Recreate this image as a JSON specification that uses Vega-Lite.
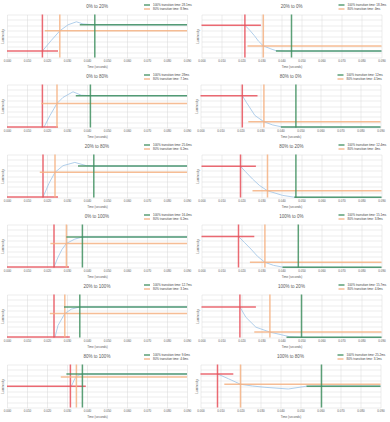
{
"$schema":"https://vega.github.io/schema/vega-lite/v6.json",
"padding":{"left":1,"top":2.5,"right":0,"bottom":0},
"spacing":4,
"resolve":{"scale":{"color":"independent"},"legend":{"color":"independent"}},
"config":{
 "font":"Liberation Sans",
 "view":{"stroke":null},
 "concat":{"spacing":3.5},
 "title":{"fontSize":4.5,"fontWeight":"normal","color":"#595959","offset":0,"dy":9},
 "axis":{"labelFontSize":3,"titleFontSize":3,"titleFontWeight":"normal","labelColor":"#595959","titleColor":"#595959","ticks":false,"domain":false,"gridColor":"#d9d9d9","gridWidth":0.5,"labelPadding":2,"titlePadding":2.5,"labelFlush":false,"labelOverlap":false},
 "legend":{"orient":"none","legendX":136,"legendY":-11.5,"labelFontSize":3,"labelColor":"#404040","symbolType":"stroke","symbolStrokeWidth":1.5,"symbolSize":36,"clipHeight":4,"rowPadding":0,"labelOffset":2,"padding":0}
},
"vconcat":[
{"hconcat":[
 {"title":"0% to 20%","width":180,"height":43,
  "data":{"values":[
   {"k":"c","t":0.0177,"v":15},{"k":"c","t":0.0222,"v":40},{"k":"c","t":0.0264,"v":62},{"k":"c","t":0.0305,"v":76},{"k":"c","t":0.0347,"v":83},{"k":"c","t":0.038,"v":78},{"k":"c","t":0.044,"v":76},{"k":"c","t":0.09,"v":76},
   {"k":"h","s":"r","t":0,"t2":0.0255,"v":15,"v2":15},{"k":"v","s":"r","t":0.0177,"t2":0.0177,"v":0,"v2":100},
   {"k":"h","s":"o","t":0.0189,"t2":0.09,"v":62,"v2":62},{"k":"v","s":"o","t":0.0264,"t2":0.0264,"v":0,"v2":100},
   {"k":"h","s":"g","t":0.0364,"t2":0.09,"v":76,"v2":76},{"k":"v","s":"g","t":0.0439,"t2":0.0439,"v":0,"v2":100}]},
  "encoding":{"x":{"field":"t","type":"quantitative","scale":{"domain":[0,0.09],"nice":false},"axis":{"values":[0,0.01,0.02,0.03,0.04,0.05,0.06,0.07,0.08,0.09],"format":".3f","title":"Time (seconds)"}},
   "y":{"field":"v","type":"quantitative","scale":{"domain":[0,100],"nice":false},"axis":{"values":[0,12.5,25,37.5,50,62.5,75,87.5,100],"labels":false,"title":"Luminosity"}}},
  "layer":[
   {"transform":[{"filter":"datum.k=='c'"}],"mark":{"type":"line","color":"#9dc3e6","strokeWidth":0.8},"encoding":{}},
   {"transform":[{"filter":"datum.k!='c'"}],"mark":{"type":"rule","strokeWidth":1.5,"opacity":0.85},"encoding":{"x2":{"field":"t2"},"y2":{"field":"v2"},"color":{"field":"s","type":"nominal","scale":{"domain":["g","o","r"],"range":["#3f8f5f","#f4b183","#e8505b"]},"legend":{"title":null,"values":["g","o"],"labelExpr":"datum.value=='g'?'100% transition time: 28.1ms':'80% transition time: 8.9ms'"}}}}
  ]},
 {"title":"20% to 0%","width":180,"height":43,
  "data":{"values":[
   {"k":"c","t":0.0217,"v":75},{"k":"c","t":0.024,"v":64},{"k":"c","t":0.0264,"v":51},{"k":"c","t":0.0285,"v":38},{"k":"c","t":0.0309,"v":27},{"k":"c","t":0.0347,"v":20},{"k":"c","t":0.0372,"v":16},{"k":"c","t":0.042,"v":15},{"k":"c","t":0.09,"v":15},
   {"k":"h","s":"r","t":0,"t2":0.0297,"v":75,"v2":75},{"k":"v","s":"r","t":0.0217,"t2":0.0217,"v":0,"v2":100},
   {"k":"h","s":"o","t":0.023,"t2":0.09,"v":27,"v2":27},{"k":"v","s":"o","t":0.0309,"t2":0.0309,"v":0,"v2":100},
   {"k":"h","s":"g","t":0.0372,"t2":0.09,"v":15,"v2":15},{"k":"v","s":"g","t":0.045,"t2":0.045,"v":0,"v2":100}]},
  "encoding":{"x":{"field":"t","type":"quantitative","scale":{"domain":[0,0.09],"nice":false},"axis":{"values":[0,0.01,0.02,0.03,0.04,0.05,0.06,0.07,0.08,0.09],"format":".3f","title":"Time (seconds)"}},
   "y":{"field":"v","type":"quantitative","scale":{"domain":[0,100],"nice":false},"axis":{"values":[0,12.5,25,37.5,50,62.5,75,87.5,100],"labels":false,"title":"Luminosity"}}},
  "layer":[
   {"transform":[{"filter":"datum.k=='c'"}],"mark":{"type":"line","color":"#9dc3e6","strokeWidth":0.8},"encoding":{}},
   {"transform":[{"filter":"datum.k!='c'"}],"mark":{"type":"rule","strokeWidth":1.5,"opacity":0.85},"encoding":{"x2":{"field":"t2"},"y2":{"field":"v2"},"color":{"field":"s","type":"nominal","scale":{"domain":["g","o","r"],"range":["#3f8f5f","#f4b183","#e8505b"]},"legend":{"title":null,"values":["g","o"],"labelExpr":"datum.value=='g'?'100% transition time: 18.3ms':'80% transition time: 4ms'"}}}}
  ]}
 ],"resolve":{"scale":{"color":"independent"},"legend":{"color":"independent"}}},
{"hconcat":[
 {"title":"0% to 80%","width":180,"height":43,
  "data":{"values":[
   {"k":"c","t":0.0185,"v":1},{"k":"c","t":0.0215,"v":28},{"k":"c","t":0.025,"v":56},{"k":"c","t":0.028,"v":70},{"k":"c","t":0.033,"v":83},{"k":"c","t":0.0372,"v":75},{"k":"c","t":0.042,"v":74},{"k":"c","t":0.09,"v":74},
   {"k":"h","s":"r","t":0,"t2":0.0255,"v":1,"v2":1},{"k":"v","s":"r","t":0.0177,"t2":0.0177,"v":0,"v2":100},
   {"k":"h","s":"o","t":0.0172,"t2":0.09,"v":56,"v2":56},{"k":"v","s":"o","t":0.025,"t2":0.025,"v":0,"v2":100},
   {"k":"h","s":"g","t":0.0344,"t2":0.09,"v":74,"v2":74},{"k":"v","s":"g","t":0.0417,"t2":0.0417,"v":0,"v2":100}]},
  "encoding":{"x":{"field":"t","type":"quantitative","scale":{"domain":[0,0.09],"nice":false},"axis":{"values":[0,0.01,0.02,0.03,0.04,0.05,0.06,0.07,0.08,0.09],"format":".3f","title":"Time (seconds)"}},
   "y":{"field":"v","type":"quantitative","scale":{"domain":[0,100],"nice":false},"axis":{"values":[0,12.5,25,37.5,50,62.5,75,87.5,100],"labels":false,"title":"Luminosity"}}},
  "layer":[
   {"transform":[{"filter":"datum.k=='c'"}],"mark":{"type":"line","color":"#9dc3e6","strokeWidth":0.8},"encoding":{}},
   {"transform":[{"filter":"datum.k!='c'"}],"mark":{"type":"rule","strokeWidth":1.5,"opacity":0.85},"encoding":{"x2":{"field":"t2"},"y2":{"field":"v2"},"color":{"field":"s","type":"nominal","scale":{"domain":["g","o","r"],"range":["#3f8f5f","#f4b183","#e8505b"]},"legend":{"title":null,"values":["g","o"],"labelExpr":"datum.value=='g'?'100% transition time: 28ms':'80% transition time: 7.1ms'"}}}}
  ]},
 {"title":"80% to 0%","width":180,"height":43,
  "data":{"values":[
   {"k":"c","t":0.0209,"v":74},{"k":"c","t":0.023,"v":58},{"k":"c","t":0.0272,"v":28},{"k":"c","t":0.0317,"v":13.4},{"k":"c","t":0.036,"v":6},{"k":"c","t":0.0405,"v":1.5},{"k":"c","t":0.045,"v":1},{"k":"c","t":0.09,"v":1},
   {"k":"h","s":"r","t":0,"t2":0.0285,"v":74,"v2":74},{"k":"v","s":"r","t":0.0209,"t2":0.0209,"v":0,"v2":100},
   {"k":"h","s":"o","t":0.0239,"t2":0.09,"v":13.4,"v2":13.4},{"k":"v","s":"o","t":0.0317,"t2":0.0317,"v":0,"v2":100},
   {"k":"h","s":"g","t":0.0402,"t2":0.09,"v":1,"v2":1},{"k":"v","s":"g","t":0.0477,"t2":0.0477,"v":0,"v2":100}]},
  "encoding":{"x":{"field":"t","type":"quantitative","scale":{"domain":[0,0.09],"nice":false},"axis":{"values":[0,0.01,0.02,0.03,0.04,0.05,0.06,0.07,0.08,0.09],"format":".3f","title":"Time (seconds)"}},
   "y":{"field":"v","type":"quantitative","scale":{"domain":[0,100],"nice":false},"axis":{"values":[0,12.5,25,37.5,50,62.5,75,87.5,100],"labels":false,"title":"Luminosity"}}},
  "layer":[
   {"transform":[{"filter":"datum.k=='c'"}],"mark":{"type":"line","color":"#9dc3e6","strokeWidth":0.8},"encoding":{}},
   {"transform":[{"filter":"datum.k!='c'"}],"mark":{"type":"rule","strokeWidth":1.5,"opacity":0.85},"encoding":{"x2":{"field":"t2"},"y2":{"field":"v2"},"color":{"field":"s","type":"nominal","scale":{"domain":["g","o","r"],"range":["#3f8f5f","#f4b183","#e8505b"]},"legend":{"title":null,"values":["g","o"],"labelExpr":"datum.value=='g'?'100% transition time: 12ms':'80% transition time: 4.5ms'"}}}}
  ]}
 ],"resolve":{"scale":{"color":"independent"},"legend":{"color":"independent"}}},
{"hconcat":[
 {"title":"20% to 80%","width":180,"height":43,
  "data":{"values":[
   {"k":"c","t":0.018,"v":1},{"k":"c","t":0.021,"v":33},{"k":"c","t":0.024,"v":58.6},{"k":"c","t":0.028,"v":74},{"k":"c","t":0.0339,"v":81.6},{"k":"c","t":0.0397,"v":74},{"k":"c","t":0.045,"v":73},{"k":"c","t":0.09,"v":73},
   {"k":"h","s":"r","t":0,"t2":0.0255,"v":1,"v2":1},{"k":"v","s":"r","t":0.018,"t2":0.018,"v":0,"v2":100},
   {"k":"h","s":"o","t":0.0164,"t2":0.09,"v":58.6,"v2":58.6},{"k":"v","s":"o","t":0.024,"t2":0.024,"v":0,"v2":100},
   {"k":"h","s":"g","t":0.0355,"t2":0.09,"v":73,"v2":73},{"k":"v","s":"g","t":0.0434,"t2":0.0434,"v":0,"v2":100}]},
  "encoding":{"x":{"field":"t","type":"quantitative","scale":{"domain":[0,0.09],"nice":false},"axis":{"values":[0,0.01,0.02,0.03,0.04,0.05,0.06,0.07,0.08,0.09],"format":".3f","title":"Time (seconds)"}},
   "y":{"field":"v","type":"quantitative","scale":{"domain":[0,100],"nice":false},"axis":{"values":[0,12.5,25,37.5,50,62.5,75,87.5,100],"labels":false,"title":"Luminosity"}}},
  "layer":[
   {"transform":[{"filter":"datum.k=='c'"}],"mark":{"type":"line","color":"#9dc3e6","strokeWidth":0.8},"encoding":{}},
   {"transform":[{"filter":"datum.k!='c'"}],"mark":{"type":"rule","strokeWidth":1.5,"opacity":0.85},"encoding":{"x2":{"field":"t2"},"y2":{"field":"v2"},"color":{"field":"s","type":"nominal","scale":{"domain":["g","o","r"],"range":["#3f8f5f","#f4b183","#e8505b"]},"legend":{"title":null,"values":["g","o"],"labelExpr":"datum.value=='g'?'100% transition time: 25.6ms':'80% transition time: 6.2ms'"}}}}
  ]},
 {"title":"80% to 20%","width":180,"height":43,
  "data":{"values":[
   {"k":"c","t":0.0195,"v":72.4},{"k":"c","t":0.022,"v":60},{"k":"c","t":0.0255,"v":43},{"k":"c","t":0.029,"v":28},{"k":"c","t":0.033,"v":15.6},{"k":"c","t":0.0405,"v":5},{"k":"c","t":0.046,"v":1},{"k":"c","t":0.09,"v":0.5},
   {"k":"h","s":"r","t":0,"t2":0.0272,"v":72.4,"v2":72.4},{"k":"v","s":"r","t":0.0195,"t2":0.0195,"v":0,"v2":100},
   {"k":"h","s":"o","t":0.0255,"t2":0.09,"v":15.6,"v2":15.6},{"k":"v","s":"o","t":0.033,"t2":0.033,"v":0,"v2":100},
   {"k":"h","s":"g","t":0.0464,"t2":0.09,"v":0.5,"v2":0.5},{"k":"v","s":"g","t":0.0472,"t2":0.0472,"v":0,"v2":100}]},
  "encoding":{"x":{"field":"t","type":"quantitative","scale":{"domain":[0,0.09],"nice":false},"axis":{"values":[0,0.01,0.02,0.03,0.04,0.05,0.06,0.07,0.08,0.09],"format":".3f","title":"Time (seconds)"}},
   "y":{"field":"v","type":"quantitative","scale":{"domain":[0,100],"nice":false},"axis":{"values":[0,12.5,25,37.5,50,62.5,75,87.5,100],"labels":false,"title":"Luminosity"}}},
  "layer":[
   {"transform":[{"filter":"datum.k=='c'"}],"mark":{"type":"line","color":"#9dc3e6","strokeWidth":0.8},"encoding":{}},
   {"transform":[{"filter":"datum.k!='c'"}],"mark":{"type":"rule","strokeWidth":1.5,"opacity":0.85},"encoding":{"x2":{"field":"t2"},"y2":{"field":"v2"},"color":{"field":"s","type":"nominal","scale":{"domain":["g","o","r"],"range":["#3f8f5f","#f4b183","#e8505b"]},"legend":{"title":null,"values":["g","o"],"labelExpr":"datum.value=='g'?'100% transition time: 12.4ms':'80% transition time: 4ms'"}}}}
  ]}
 ],"resolve":{"scale":{"color":"independent"},"legend":{"color":"independent"}}},
{"hconcat":[
 {"title":"0% to 100%","width":180,"height":43,
  "data":{"values":[
   {"k":"c","t":0.0235,"v":1},{"k":"c","t":0.0255,"v":24},{"k":"c","t":0.0275,"v":42},{"k":"c","t":0.0297,"v":56},{"k":"c","t":0.0339,"v":66},{"k":"c","t":0.0377,"v":71},{"k":"c","t":0.09,"v":71},
   {"k":"h","s":"r","t":0,"t2":0.031,"v":1,"v2":1},{"k":"v","s":"r","t":0.0235,"t2":0.0235,"v":0,"v2":100},
   {"k":"h","s":"o","t":0.0217,"t2":0.09,"v":56,"v2":56},{"k":"v","s":"o","t":0.0297,"t2":0.0297,"v":0,"v2":100},
   {"k":"h","s":"g","t":0.0297,"t2":0.09,"v":71,"v2":71},{"k":"v","s":"g","t":0.0377,"t2":0.0377,"v":0,"v2":100}]},
  "encoding":{"x":{"field":"t","type":"quantitative","scale":{"domain":[0,0.09],"nice":false},"axis":{"values":[0,0.01,0.02,0.03,0.04,0.05,0.06,0.07,0.08,0.09],"format":".3f","title":"Time (seconds)"}},
   "y":{"field":"v","type":"quantitative","scale":{"domain":[0,100],"nice":false},"axis":{"values":[0,12.5,25,37.5,50,62.5,75,87.5,100],"labels":false,"title":"Luminosity"}}},
  "layer":[
   {"transform":[{"filter":"datum.k=='c'"}],"mark":{"type":"line","color":"#9dc3e6","strokeWidth":0.8},"encoding":{}},
   {"transform":[{"filter":"datum.k!='c'"}],"mark":{"type":"rule","strokeWidth":1.5,"opacity":0.85},"encoding":{"x2":{"field":"t2"},"y2":{"field":"v2"},"color":{"field":"s","type":"nominal","scale":{"domain":["g","o","r"],"range":["#3f8f5f","#f4b183","#e8505b"]},"legend":{"title":null,"values":["g","o"],"labelExpr":"datum.value=='g'?'100% transition time: 16.4ms':'80% transition time: 6.2ms'"}}}}
  ]},
 {"title":"100% to 0%","width":180,"height":43,
  "data":{"values":[
   {"k":"c","t":0.0185,"v":72},{"k":"c","t":0.0215,"v":58},{"k":"c","t":0.0247,"v":43},{"k":"c","t":0.028,"v":26},{"k":"c","t":0.0317,"v":12},{"k":"c","t":0.036,"v":5},{"k":"c","t":0.0405,"v":1},{"k":"c","t":0.09,"v":0.5},
   {"k":"h","s":"r","t":0,"t2":0.0264,"v":72,"v2":72},{"k":"v","s":"r","t":0.0185,"t2":0.0185,"v":0,"v2":100},
   {"k":"h","s":"o","t":0.0242,"t2":0.09,"v":12,"v2":12},{"k":"v","s":"o","t":0.0317,"t2":0.0317,"v":0,"v2":100},
   {"k":"h","s":"g","t":0.0405,"t2":0.09,"v":0.5,"v2":0.5},{"k":"v","s":"g","t":0.0484,"t2":0.0484,"v":0,"v2":100}]},
  "encoding":{"x":{"field":"t","type":"quantitative","scale":{"domain":[0,0.09],"nice":false},"axis":{"values":[0,0.01,0.02,0.03,0.04,0.05,0.06,0.07,0.08,0.09],"format":".3f","title":"Time (seconds)"}},
   "y":{"field":"v","type":"quantitative","scale":{"domain":[0,100],"nice":false},"axis":{"values":[0,12.5,25,37.5,50,62.5,75,87.5,100],"labels":false,"title":"Luminosity"}}},
  "layer":[
   {"transform":[{"filter":"datum.k=='c'"}],"mark":{"type":"line","color":"#9dc3e6","strokeWidth":0.8},"encoding":{}},
   {"transform":[{"filter":"datum.k!='c'"}],"mark":{"type":"rule","strokeWidth":1.5,"opacity":0.85},"encoding":{"x2":{"field":"t2"},"y2":{"field":"v2"},"color":{"field":"s","type":"nominal","scale":{"domain":["g","o","r"],"range":["#3f8f5f","#f4b183","#e8505b"]},"legend":{"title":null,"values":["g","o"],"labelExpr":"datum.value=='g'?'100% transition time: 15.1ms':'80% transition time: 3.8ms'"}}}}
  ]}
 ],"resolve":{"scale":{"color":"independent"},"legend":{"color":"independent"}}},
{"hconcat":[
 {"title":"20% to 100%","width":180,"height":43,
  "data":{"values":[
   {"k":"c","t":0.024,"v":1},{"k":"c","t":0.0255,"v":28},{"k":"c","t":0.0289,"v":55.6},{"k":"c","t":0.0322,"v":66},{"k":"c","t":0.0364,"v":71},{"k":"c","t":0.09,"v":71},
   {"k":"h","s":"r","t":0,"t2":0.0314,"v":1,"v2":1},{"k":"v","s":"r","t":0.0235,"t2":0.0235,"v":0,"v2":100},
   {"k":"h","s":"o","t":0.0214,"t2":0.09,"v":55.6,"v2":55.6},{"k":"v","s":"o","t":0.0289,"t2":0.0289,"v":0,"v2":100},
   {"k":"h","s":"g","t":0.0285,"t2":0.09,"v":71,"v2":71},{"k":"v","s":"g","t":0.0364,"t2":0.0364,"v":0,"v2":100}]},
  "encoding":{"x":{"field":"t","type":"quantitative","scale":{"domain":[0,0.09],"nice":false},"axis":{"values":[0,0.01,0.02,0.03,0.04,0.05,0.06,0.07,0.08,0.09],"format":".3f","title":"Time (seconds)"}},
   "y":{"field":"v","type":"quantitative","scale":{"domain":[0,100],"nice":false},"axis":{"values":[0,12.5,25,37.5,50,62.5,75,87.5,100],"labels":false,"title":"Luminosity"}}},
  "layer":[
   {"transform":[{"filter":"datum.k=='c'"}],"mark":{"type":"line","color":"#9dc3e6","strokeWidth":0.8},"encoding":{}},
   {"transform":[{"filter":"datum.k!='c'"}],"mark":{"type":"rule","strokeWidth":1.5,"opacity":0.85},"encoding":{"x2":{"field":"t2"},"y2":{"field":"v2"},"color":{"field":"s","type":"nominal","scale":{"domain":["g","o","r"],"range":["#3f8f5f","#f4b183","#e8505b"]},"legend":{"title":null,"values":["g","o"],"labelExpr":"datum.value=='g'?'100% transition time: 12.7ms':'80% transition time: 3.1ms'"}}}}
  ]},
 {"title":"100% to 20%","width":180,"height":43,
  "data":{"values":[
   {"k":"c","t":0.0192,"v":71},{"k":"c","t":0.0222,"v":47},{"k":"c","t":0.0272,"v":24},{"k":"c","t":0.0342,"v":12.6},{"k":"c","t":0.0439,"v":2},{"k":"c","t":0.05,"v":0.5},{"k":"c","t":0.09,"v":0.5},
   {"k":"h","s":"r","t":0,"t2":0.0272,"v":71,"v2":71},{"k":"v","s":"r","t":0.0192,"t2":0.0192,"v":0,"v2":100},
   {"k":"h","s":"o","t":0.0264,"t2":0.09,"v":12.6,"v2":12.6},{"k":"v","s":"o","t":0.0342,"t2":0.0342,"v":0,"v2":100},
   {"k":"h","s":"g","t":0.0425,"t2":0.09,"v":0.5,"v2":0.5},{"k":"v","s":"g","t":0.05,"t2":0.05,"v":0,"v2":100}]},
  "encoding":{"x":{"field":"t","type":"quantitative","scale":{"domain":[0,0.09],"nice":false},"axis":{"values":[0,0.01,0.02,0.03,0.04,0.05,0.06,0.07,0.08,0.09],"format":".3f","title":"Time (seconds)"}},
   "y":{"field":"v","type":"quantitative","scale":{"domain":[0,100],"nice":false},"axis":{"values":[0,12.5,25,37.5,50,62.5,75,87.5,100],"labels":false,"title":"Luminosity"}}},
  "layer":[
   {"transform":[{"filter":"datum.k=='c'"}],"mark":{"type":"line","color":"#9dc3e6","strokeWidth":0.8},"encoding":{}},
   {"transform":[{"filter":"datum.k!='c'"}],"mark":{"type":"rule","strokeWidth":1.5,"opacity":0.85},"encoding":{"x2":{"field":"t2"},"y2":{"field":"v2"},"color":{"field":"s","type":"nominal","scale":{"domain":["g","o","r"],"range":["#3f8f5f","#f4b183","#e8505b"]},"legend":{"title":null,"values":["g","o"],"labelExpr":"datum.value=='g'?'100% transition time: 15.7ms':'80% transition time: 4.6ms'"}}}}
  ]}
 ],"resolve":{"scale":{"color":"independent"},"legend":{"color":"independent"}}},
{"hconcat":[
 {"title":"80% to 100%","width":180,"height":43,
  "data":{"values":[
   {"k":"c","t":0.0322,"v":49.6},{"k":"c","t":0.0339,"v":67},{"k":"c","t":0.0355,"v":75},{"k":"c","t":0.0377,"v":78},{"k":"c","t":0.09,"v":78},
   {"k":"h","s":"r","t":0,"t2":0.0394,"v":49.6,"v2":49.6},{"k":"v","s":"r","t":0.0317,"t2":0.0317,"v":0,"v2":100},
   {"k":"h","s":"o","t":0.0269,"t2":0.09,"v":71,"v2":71},{"k":"v","s":"o","t":0.0347,"t2":0.0347,"v":0,"v2":100},
   {"k":"h","s":"g","t":0.0297,"t2":0.09,"v":78,"v2":78},{"k":"v","s":"g","t":0.0377,"t2":0.0377,"v":0,"v2":100}]},
  "encoding":{"x":{"field":"t","type":"quantitative","scale":{"domain":[0,0.09],"nice":false},"axis":{"values":[0,0.01,0.02,0.03,0.04,0.05,0.06,0.07,0.08,0.09],"format":".3f","title":"Time (seconds)"}},
   "y":{"field":"v","type":"quantitative","scale":{"domain":[0,100],"nice":false},"axis":{"values":[0,12.5,25,37.5,50,62.5,75,87.5,100],"labels":false,"title":"Luminosity"}}},
  "layer":[
   {"transform":[{"filter":"datum.k=='c'"}],"mark":{"type":"line","color":"#9dc3e6","strokeWidth":0.8},"encoding":{}},
   {"transform":[{"filter":"datum.k!='c'"}],"mark":{"type":"rule","strokeWidth":1.5,"opacity":0.85},"encoding":{"x2":{"field":"t2"},"y2":{"field":"v2"},"color":{"field":"s","type":"nominal","scale":{"domain":["g","o","r"],"range":["#3f8f5f","#f4b183","#e8505b"]},"legend":{"title":null,"values":["g","o"],"labelExpr":"datum.value=='g'?'100% transition time: 9.6ms':'80% transition time: 4.6ms'"}}}}
  ]},
 {"title":"100% to 80%","width":180,"height":43,
  "data":{"values":[
   {"k":"c","t":0.0085,"v":78},{"k":"c","t":0.0139,"v":67},{"k":"c","t":0.02,"v":54},{"k":"c","t":0.026,"v":50},{"k":"c","t":0.0322,"v":47},{"k":"c","t":0.0439,"v":43},{"k":"c","t":0.053,"v":49.6},{"k":"c","t":0.0605,"v":50},{"k":"c","t":0.09,"v":50},
   {"k":"h","s":"r","t":0,"t2":0.0164,"v":78,"v2":78},{"k":"v","s":"r","t":0.0085,"t2":0.0085,"v":0,"v2":100},
   {"k":"h","s":"o","t":0.0119,"t2":0.09,"v":54,"v2":54},{"k":"v","s":"o","t":0.02,"t2":0.02,"v":0,"v2":100},
   {"k":"h","s":"g","t":0.053,"t2":0.09,"v":49.6,"v2":49.6},{"k":"v","s":"g","t":0.0605,"t2":0.0605,"v":0,"v2":100}]},
  "encoding":{"x":{"field":"t","type":"quantitative","scale":{"domain":[0,0.09],"nice":false},"axis":{"values":[0,0.01,0.02,0.03,0.04,0.05,0.06,0.07,0.08,0.09],"format":".3f","title":"Time (seconds)"}},
   "y":{"field":"v","type":"quantitative","scale":{"domain":[0,100],"nice":false},"axis":{"values":[0,12.5,25,37.5,50,62.5,75,87.5,100],"labels":false,"title":"Luminosity"}}},
  "layer":[
   {"transform":[{"filter":"datum.k=='c'"}],"mark":{"type":"line","color":"#9dc3e6","strokeWidth":0.8},"encoding":{}},
   {"transform":[{"filter":"datum.k!='c'"}],"mark":{"type":"rule","strokeWidth":1.5,"opacity":0.85},"encoding":{"x2":{"field":"t2"},"y2":{"field":"v2"},"color":{"field":"s","type":"nominal","scale":{"domain":["g","o","r"],"range":["#3f8f5f","#f4b183","#e8505b"]},"legend":{"title":null,"values":["g","o"],"labelExpr":"datum.value=='g'?'100% transition time: 25.2ms':'80% transition time: 3.1ms'"}}}}
  ]}
 ],"resolve":{"scale":{"color":"independent"},"legend":{"color":"independent"}}}
]
}
